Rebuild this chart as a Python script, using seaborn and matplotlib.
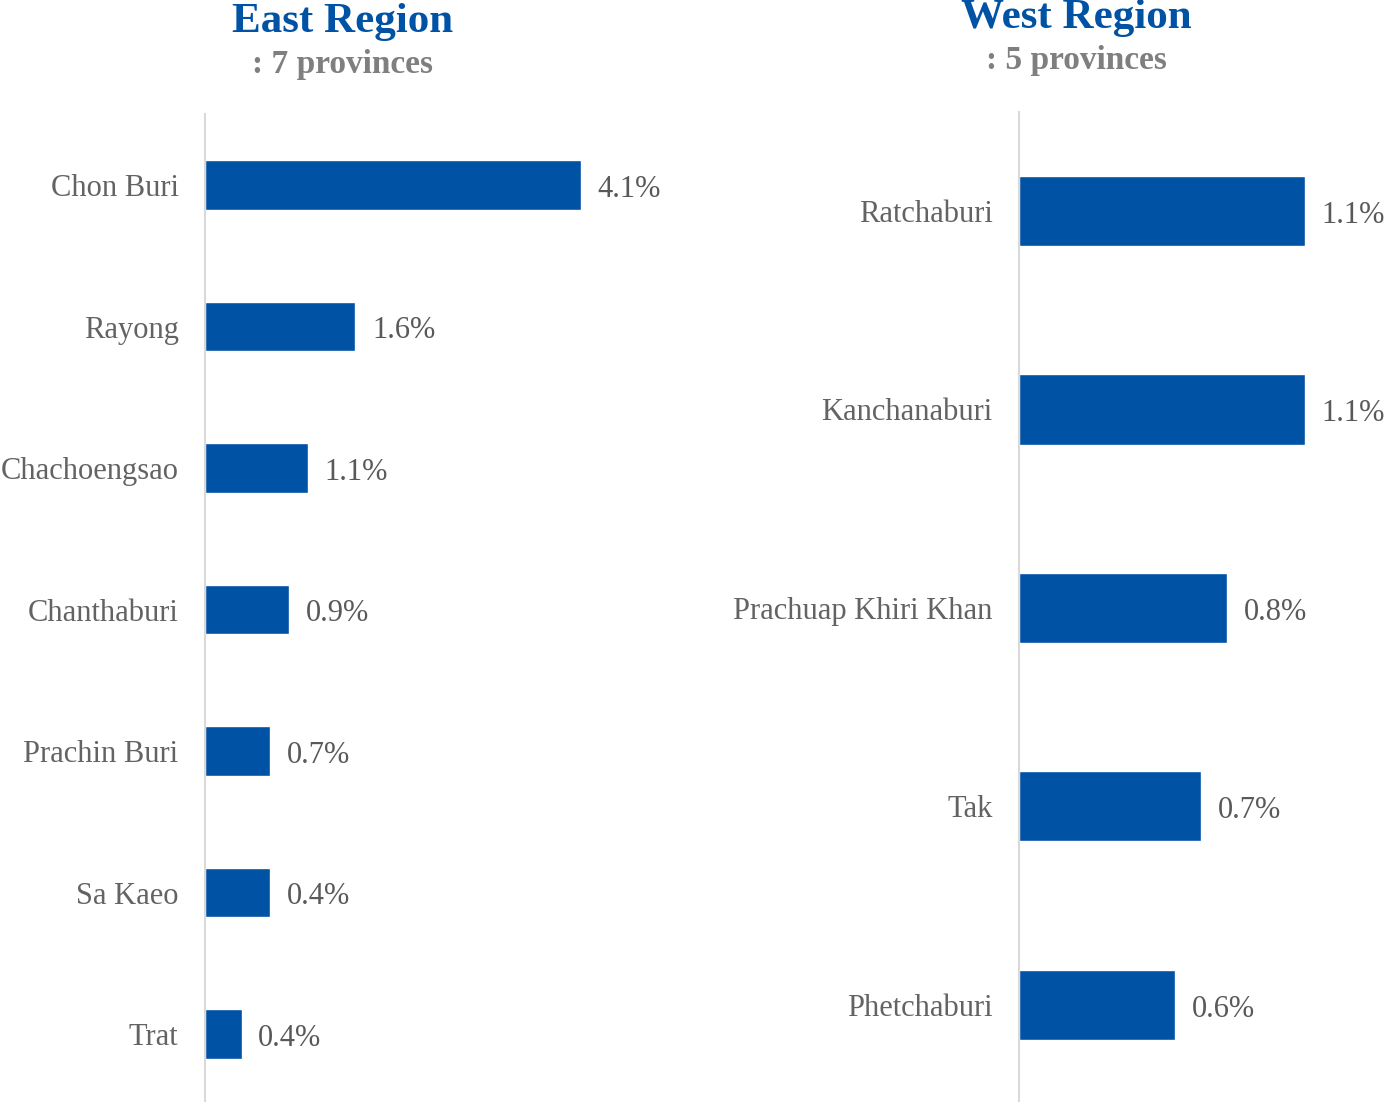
import pandas as pd
import seaborn as sns
import matplotlib.pyplot as plt

# data (bar lengths as drawn, labels as printed)
east_provinces = ['Chon Buri', 'Rayong', 'Chachoengsao', 'Chanthaburi',
                  'Prachin Buri', 'Sa Kaeo', 'Trat']
east_share = [4.1, 1.64, 1.12, 0.92, 0.71, 0.71, 0.40]
east_labels = ['4.1%', '1.6%', '1.1%', '0.9%', '0.7%', '0.4%', '0.4%']

west_provinces = ['Ratchaburi', 'Kanchanaburi', 'Prachuap Khiri Khan', 'Tak', 'Phetchaburi']
west_share = [1.1, 1.1, 0.8, 0.7, 0.6]
west_labels = ['1.1%', '1.1%', '0.8%', '0.7%', '0.6%']

BLUE = '#0052A5'
GRAY = '#595959'

sns.set_style("white")
plt.rcParams['font.family'] = ['Liberation Serif', 'DejaVu Serif']

fig = plt.figure(figsize=(13.88, 11.02), dpi=100)


def draw_panel(ax, provinces, share, labels, xmax):
    df = pd.DataFrame({'province': provinces, 'share': share})
    sns.barplot(data=df, x='share', y='province', orient='h', color=BLUE,
                saturation=1, width=0.353, ax=ax)
    texts = ax.bar_label(ax.containers[0], labels=labels, padding=12,
                         fontsize=22, color=GRAY)
    for t in texts:
        t.xyann = (12, -3)
    ax.set_xlim(0, xmax)
    ax.set_xlabel('')
    ax.set_ylabel('')
    ax.set_xticks([])
    ax.tick_params(axis='y', length=0, pad=19, labelsize=22, labelcolor='#636363')
    for s in ['top', 'right', 'bottom']:
        ax.spines[s].set_visible(False)
    ax.spines['left'].set_color('#D9D9D9')
    ax.spines['left'].set_linewidth(1.5)


ax_east = fig.add_axes([0.1477, -0.0025, 0.3303, 0.8988])
draw_panel(ax_east, east_provinces, east_share, east_labels, 5.0)

ax_west = fig.add_axes([0.7341, -0.0020, 0.2622, 0.9006])
draw_panel(ax_west, west_provinces, west_share, west_labels, 1.4)

# titles
fig.text(343 / 1388, 1 - 22 / 1102, 'East Region', ha='center', va='center',
         fontsize=31, fontweight='bold', color=BLUE)
fig.text(343 / 1388, 1 - 64 / 1102, ': 7 provinces', ha='center', va='center',
         fontsize=24, fontweight='bold', color='#7F7F7F')
fig.text(1076 / 1388, 1 - 18 / 1102, 'West Region', ha='center', va='center',
         fontsize=31, fontweight='bold', color=BLUE)
fig.text(1076 / 1388, 1 - 60 / 1102, ': 5 provinces', ha='center', va='center',
         fontsize=24, fontweight='bold', color='#7F7F7F')

plt.savefig('out.png', dpi=100)
